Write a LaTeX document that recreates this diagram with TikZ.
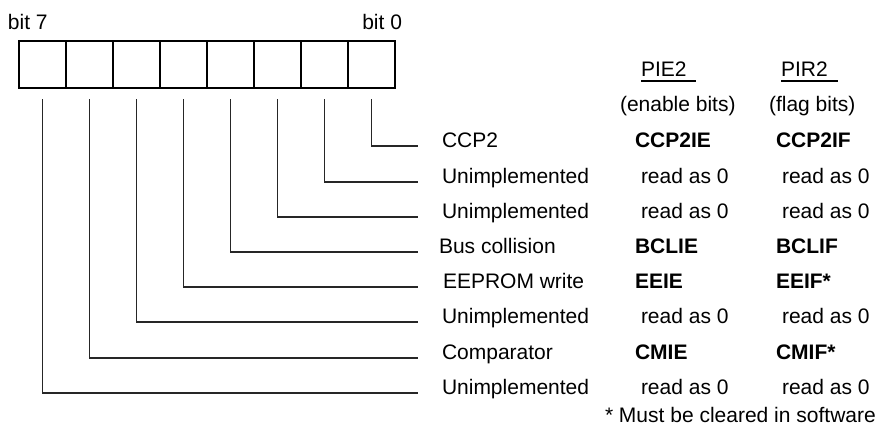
\documentclass[tikz,border=0pt]{standalone}
\usepackage{fontspec}
\setmainfont{Liberation Sans}
\begin{document}
\begin{tikzpicture}[x=1pt,y=-1pt,
  cell/.style={draw, line width=1.6pt, minimum width=47pt, minimum height=47pt, inner sep=0pt, outer sep=0pt, anchor=north west},
  conn/.style={line width=1.1pt, draw=black!85},
  txt/.style={anchor=base west, inner sep=0pt, outer sep=0pt, font=\fontsize{21}{24}\selectfont},
  btxt/.style={txt, font=\fontsize{21}{24}\selectfont\bfseries},
  uline/.style={line width=1.4pt}]
\useasboundingbox (0,0) rectangle (881,429);

% register cells: c7 (left) ... c0 (right)
\foreach \i in {0,...,7}{
  \pgfmathtruncatemacro{\b}{7-\i}
  \node[cell] (c\b) at ({19+47*\i},41) {};
}
\node[txt] (b7) at (8,29) {bit 7};
\node[txt, anchor=base east] (b0) at (402,29) {bit 0};

% headers
\node[txt] (hpie) at (641,76) {PIE2};
\node[txt] (hpir) at (781,76) {PIR2};
\draw[uline] ([yshift=-5pt]hpie.base west) -- ++(55,0);
\draw[uline] ([yshift=-5pt]hpir.base west) -- ++(57,0);
\node[txt] (hen) at (620,111) {(enable bits)};
\node[txt] (hfl) at (769,111) {(flag bits)};

% line end points
\foreach \b/\y in {0/146,1/182,2/217,3/252,4/287,5/322,6/358,7/393}{
  \coordinate (e\b) at (418,\y);
  \draw[conn] ([yshift=-11pt]c\b.south) |- (e\b);
}

% row labels
\node[txt] (l0) at (442,147) {CCP2};
\node[txt] (l1) at (442,183) {Unimplemented};
\node[txt] (l2) at (442,218) {Unimplemented};
\node[txt] (l3) at (439,253) {Bus collision};
\node[txt] (l4) at (443,288) {EEPROM write};
\node[txt] (l5) at (442,323) {Unimplemented};
\node[txt] (l6) at (442,359) {Comparator};
\node[txt] (l7) at (442,394) {Unimplemented};

% PIE2 column
\node[btxt] (p0) at (635,147) {CCP2IE};
\node[txt]  (p1) at (641,183) {read as 0};
\node[txt]  (p2) at (641,218) {read as 0};
\node[btxt] (p3) at (635,253) {BCLIE};
\node[btxt] (p4) at (635,288) {EEIE};
\node[txt]  (p5) at (641,323) {read as 0};
\node[btxt] (p6) at (635,359) {CMIE};
\node[txt]  (p7) at (641,394) {read as 0};

% PIR2 column
\node[btxt] (f0) at (776,147) {CCP2IF};
\node[txt]  (f1) at (782,183) {read as 0};
\node[txt]  (f2) at (782,218) {read as 0};
\node[btxt] (f3) at (776,253) {BCLIF};
\node[btxt] (f4) at (776,288) {EEIF*};
\node[txt]  (f5) at (782,323) {read as 0};
\node[btxt] (f6) at (776,359) {CMIF*};
\node[txt]  (f7) at (782,394) {read as 0};

\node[txt] (note) at (605,422) {* Must be cleared in software};
\end{tikzpicture}
\end{document}
